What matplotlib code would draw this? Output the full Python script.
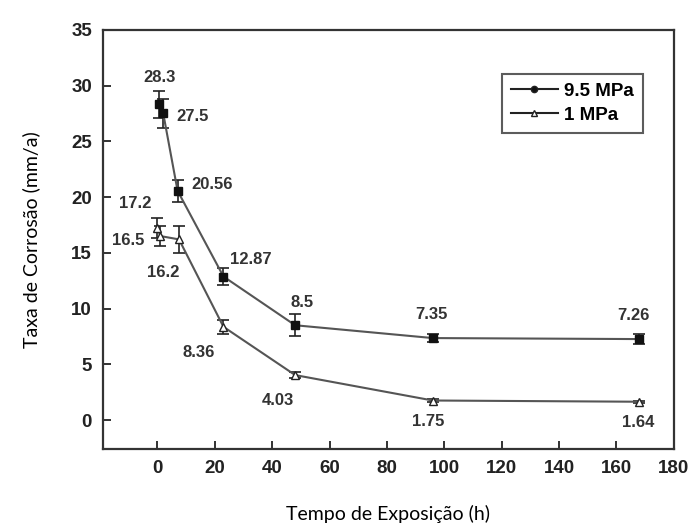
import numpy as np
import matplotlib
matplotlib.use("Agg")
import matplotlib.pyplot as plt
from matplotlib.lines import Line2D

# data
t_high = [0.5, 2, 7, 23, 48, 96, 168]
rate_high = [28.3, 27.5, 20.56, 12.87, 8.5, 7.35, 7.26]
err_high = [1.2, 1.3, 1.0, 0.8, 1.0, 0.35, 0.45]
labels_high = ["28.3", "27.5", "20.56", "12.87", "8.5", "7.35", "7.26"]

t_low = [0, 1, 7.5, 23, 48, 96, 168]
rate_low = [17.2, 16.5, 16.2, 8.36, 4.03, 1.75, 1.64]
err_low = [0.9, 0.9, 1.2, 0.6, 0.3, 0.15, 0.1]
labels_low = ["17.2", "16.5", "16.2", "8.36", "4.03", "1.75", "1.64"]

# label offsets in pixels
off_high = [(1, 27), (29, -3), (35, 6), (27, 17), (7, 23), (-1, 24), (-6, 24)]
off_low = [(-22, 25), (-32, -4), (-16, -33), (-25, -26), (-17, -25), (-5, -21), (-1, -21)]

fig = plt.figure(figsize=(6.96, 5.32), dpi=100)
ax = fig.add_axes([0.148, 0.156, 0.820, 0.788])

line_col = "#555555"
ax.errorbar(t_high, rate_high, yerr=err_high, color=line_col, lw=1.5,
            marker="s", ms=5.5, mfc="#111111", mec="#111111",
            ecolor="#222222", elinewidth=1.2, capsize=4, capthick=1.2)
ax.errorbar(t_low, rate_low, yerr=err_low, color=line_col, lw=1.5,
            marker="^", ms=5.5, mfc="white", mec="#222222",
            ecolor="#222222", elinewidth=1.2, capsize=4, capthick=1.2)

for x, y, s, o in zip(t_high, rate_high, labels_high, off_high):
    ax.annotate(s, (x, y), xytext=o, textcoords="offset pixels",
                ha="center", va="center", fontsize=12, fontweight="bold",
                color="#333333", family="Liberation Sans")
for x, y, s, o in zip(t_low, rate_low, labels_low, off_low):
    ax.annotate(s, (x, y), xytext=o, textcoords="offset pixels",
                ha="center", va="center", fontsize=12, fontweight="bold",
                color="#333333", family="Liberation Sans")

ax.set_xlim(-19, 180)
ax.set_ylim(-2.6, 35)
ax.set_xticks(np.arange(0, 181, 20))
ax.set_yticks(np.arange(0, 36, 5))
ax.tick_params(direction="in", length=6, width=1.3, top=False, right=False,
               labelsize=13.5, colors="#222222", pad=8)
for lab in ax.get_xticklabels() + ax.get_yticklabels():
    lab.set_fontweight("bold")
    lab.set_family("Liberation Sans")
for sp in ax.spines.values():
    sp.set_linewidth(1.6)
    sp.set_color("#333333")

ax.set_xlabel("Tempo de Exposição (h)", family="Lato", fontsize=14, labelpad=20)
ax.set_ylabel("Taxa de Corrosão (mm/a)", family="Lato", fontsize=14, labelpad=22)

handles = [
    Line2D([], [], color="#222222", lw=1.5, marker="o", ms=4.5, mfc="#111111"),
    Line2D([], [], color="#222222", lw=1.5, marker="^", ms=4.5, mfc="white"),
]
leg = ax.legend(handles, ["9.5 MPa", "1 MPa"], loc="upper right",
                bbox_to_anchor=(0.962, 0.918), frameon=True,
                fancybox=False, edgecolor="#333333", handlelength=2.5,
                handletextpad=0.3, borderpad=0.5, labelspacing=0.35,
                prop={"family": "Liberation Sans", "weight": "bold", "size": 13.5})
leg.get_frame().set_linewidth(1.5)

fig.savefig("out.png", dpi=100)
